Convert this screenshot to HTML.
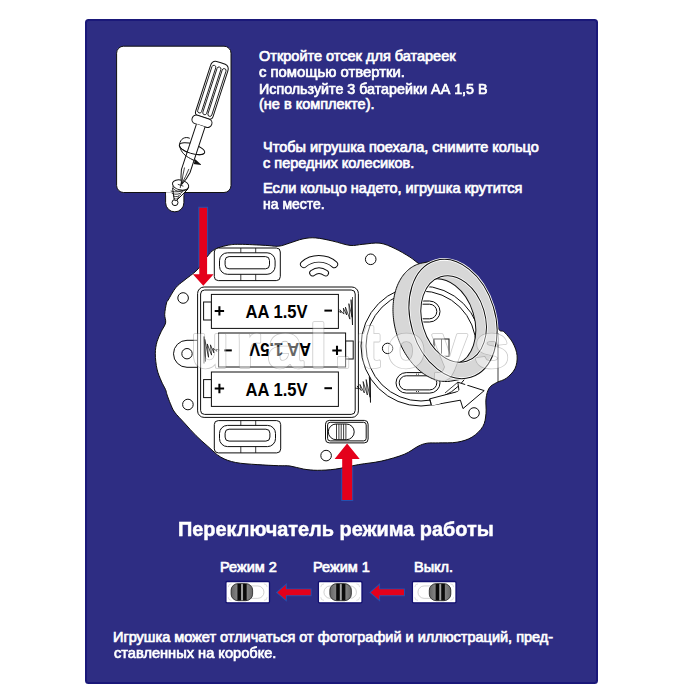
<!DOCTYPE html>
<html><head><meta charset="utf-8">
<style>
html,body{margin:0;padding:0;background:#fff;width:700px;height:700px;overflow:hidden;position:relative;}
#panel{position:absolute;left:84.5px;top:19px;width:509px;height:661px;background:#2e2d83;border:2px solid #1a1879;border-radius:3.5px;}
.t{position:absolute;white-space:nowrap;color:#fff;font-family:"Liberation Sans",sans-serif;font-size:14.5px;line-height:16px;transform-origin:0 0;-webkit-text-stroke:0.7px #fff;}
.b{font-weight:bold;-webkit-text-stroke:0.5px #fff;}
svg{position:absolute;left:0;top:0;}
</style></head><body>
<div id="panel"></div>
<svg width="700" height="700" viewBox="0 0 700 700">
<path d="M165.6 190 L165.6 202.7 A9.15 9.15 0 0 0 183.9 202.7 L183.9 190" fill="#fff" stroke="#111" stroke-width="1"/><rect x="116.6" y="46.2" width="114.4" height="146.3" rx="7" fill="#fff" stroke="#111" stroke-width="1"/><rect x="166.1" y="191.5" width="17.3" height="4" fill="#fff"/><line x1="166" y1="192.5" x2="183.5" y2="192.5" stroke="#aaa" stroke-width="0.6"/><circle cx="175" cy="202.6" r="3" fill="#fff" stroke="#111" stroke-width="1"/><path d="M189.8 138.3 C185 136.2 180.2 138.6 179.5 144.8" fill="none" stroke="#111" stroke-width="1"/><ellipse cx="192" cy="148.8" rx="13.2" ry="4.8" transform="rotate(17 192 148.8)" fill="none" stroke="#111" stroke-width="1"/><path d="M172.6 188 L174.2 199.8 Q175 201 176.5 200.5 L188 189" fill="#fff" stroke="#111" stroke-width="1"/><path d="M170.7 191 Q179 193.4 185 189" fill="none" stroke="#111" stroke-width="0.8"/><path d="M171.82 193.4 Q178.4 195.8 183 191.4" fill="none" stroke="#111" stroke-width="0.8"/><path d="M172.94 195.8 Q177.8 198.2 181 193.8" fill="none" stroke="#111" stroke-width="0.8"/><path d="M174.06 198.2 Q177.2 200.6 179 196.2" fill="none" stroke="#111" stroke-width="0.8"/><ellipse cx="180.6" cy="185" rx="8.3" ry="5" transform="rotate(14 180.6 185)" fill="#fff" stroke="#111" stroke-width="1"/><path d="M172.6 186.4 Q173.5 191.5 180.5 191.2 Q187.8 190.8 188.6 187" fill="none" stroke="#111" stroke-width="0.8"/><path d="M177.8 184.3 L183.4 186.2 M181.2 182.4 L180.2 188" stroke="#111" stroke-width="0.8"/><g transform="translate(220.6 63.6) rotate(18)"><path d="M-9 5 Q-9 -0.2 -4.5 -0.8 Q0 -1.3 4.6 -0.8 Q9.2 -0.2 9.2 5 L9.2 53 Q9.2 56.5 5.5 56.5 L-5.3 56.5 Q-9 56.5 -9 53 Z" fill="#fff" stroke="#111" stroke-width="1"/><rect x="-7.3" y="3.6" width="4.0" height="50" rx="2" fill="none" stroke="#111" stroke-width="0.85"/><rect x="-1.9" y="3.6" width="4.0" height="50" rx="2" fill="none" stroke="#111" stroke-width="0.85"/><rect x="3.5" y="3.6" width="4.0" height="50" rx="2" fill="none" stroke="#111" stroke-width="0.85"/><rect x="-10.2" y="56.2" width="20.6" height="8.8" rx="4.4" fill="#fff" stroke="#111" stroke-width="1"/><path d="M-4.3 65 L-4.5 113 Q-3 121 0.3 127 Q3.4 121 4.6 113 L4.8 65" fill="#fff" stroke="#111" stroke-width="1"/><path d="M-2.2 110 Q-1.6 119 0.3 126 M2.4 110 Q1.8 118 0.3 126" fill="none" stroke="#111" stroke-width="0.7"/></g><path d="M204.62 152.66 A13.2 4.8 17 0 1 179.38 144.94" fill="none" stroke="#111" stroke-width="1"/><path d="M179.8 146.5 C181.2 152.5 185 155.8 190.5 158.6 L197.5 162.3" fill="none" stroke="#111" stroke-width="1"/><path d="M195.2 159.3 L201.6 165.1 L193.8 163.9 Z" fill="#111"/>
<path d="M199.3 207.8 H207.1 V274.3 H213.6 L203.3 285.7 L192.9 274.3 H199.3 Z" fill="none" stroke="#2350b0" stroke-width="2"/>
<path d="M342.2 500 V458.9 H334.6 L347.1 443.5 L359.7 458.9 H352.2 V500 Z" fill="none" stroke="#2350b0" stroke-width="2"/>
<path d="M168.2 300 C169.73 297.47 173.07 291.05 175.7 287.8 C178.33 284.55 180.43 283.47 184 280.5 C187.57 277.53 193.3 273.9 197.1 270 C200.9 266.1 203.93 260.5 206.8 257.1 C209.67 253.7 210.92 251.55 214.3 249.6 C217.68 247.65 222.82 246.28 227.1 245.4 C231.38 244.52 233.57 244.3 240 244.3 C246.43 244.3 259.27 245.08 265.7 245.4 C272.13 245.72 274.67 246.57 278.6 246.2 C282.53 245.83 285.25 244.42 289.3 243.2 C293.35 241.98 298.5 239.78 302.9 238.9 C307.3 238.02 310.7 237.53 315.7 237.9 C320.7 238.27 327.18 239.85 332.9 241.1 C338.62 242.35 345 244.87 350 245.4 C355 245.93 357.9 244.67 362.9 244.3 C367.9 243.93 374.65 242.48 380 243.2 C385.35 243.92 390 246.28 395 248.6 C400 250.92 405.5 254.37 410 257.1 C414.5 259.83 416.17 262.85 422 265 C427.83 267.15 436.67 267.17 445 270 C453.33 272.83 464.5 276.67 472 282 C479.5 287.33 485.67 294.33 490 302 C494.33 309.67 495.62 322.98 498 328 C500.38 333.02 501.82 329.62 504.3 332.1 C506.78 334.58 510.77 338.97 512.9 342.9 C515.03 346.83 516.75 351.42 517.1 355.7 C517.45 359.98 516.78 364.85 515 368.6 C513.22 372.35 509.43 375.88 506.4 378.2 C503.37 380.52 499.65 380.88 496.8 382.5 C493.95 384.12 491.1 385.22 489.3 387.9 C487.5 390.58 486.55 394.32 486 398.6 C485.45 402.88 486.52 408.97 486 413.6 C485.48 418.23 485.22 422.48 482.9 426.4 C480.58 430.32 476.4 434.47 472.1 437.1 C467.8 439.73 462.68 441.23 457.1 442.2 C451.52 443.17 443.6 442.73 438.6 442.9 C433.6 443.07 430.53 442.63 427.1 443.2 C423.67 443.77 421.8 444.45 418 446.3 C414.2 448.15 410.4 451.83 404.3 454.3 C398.2 456.77 389.02 459.38 381.4 461.1 C373.78 462.82 366.22 463.27 358.6 464.6 C350.98 465.93 342.57 468.15 335.7 469.1 C328.83 470.05 322.73 470.3 317.4 470.3 C312.07 470.3 308.27 469.82 303.7 469.1 C299.13 468.38 294.18 466.57 290 466 C285.82 465.43 284.08 465.93 278.6 465.7 C273.12 465.47 264.25 465.13 257.1 464.6 C249.95 464.07 241.77 463.75 235.7 462.5 C229.63 461.25 225.33 459.78 220.7 457.1 C216.07 454.42 212 449.97 207.9 446.4 C203.8 442.83 200.03 439.62 196.1 435.7 C192.17 431.78 187.88 426.83 184.3 422.9 C180.72 418.97 176.92 415.32 174.6 412.1 C172.28 408.88 171.65 406.45 170.4 403.6 C169.15 400.75 167.9 397.32 167.1 395 C166.3 392.68 166.57 392.02 165.6 389.7 C164.63 387.38 162.73 384.53 161.3 381.1 C159.87 377.67 158 373.67 157 369.1 C156 364.53 155.3 358.27 155.3 353.7 C155.3 349.13 156 345.42 157 341.7 C158 337.98 159.87 334.53 161.3 331.4 C162.73 328.27 165.03 325.75 165.6 322.9 C166.17 320.05 164.55 317.62 164.7 314.3 C164.85 310.98 165.92 305.38 166.5 303 C167.08 300.62 166.67 302.53 168.2 300Z" fill="#fff" stroke="#0d0d0d" stroke-width="1"/><line x1="498" y1="333" x2="498" y2="382" stroke="#0d0d0d" stroke-width="0.8"/><rect x="214.3" y="248" width="66" height="32.6" rx="4" fill="#fff" stroke="#0d0d0d" stroke-width="1"/><rect x="219.5" y="252.8" width="55.6" height="21.5" rx="8" fill="none" stroke="#0d0d0d" stroke-width="1"/><rect x="225.1" y="256.6" width="44.4" height="12.2" rx="4" fill="none" stroke="#0d0d0d" stroke-width="1"/><line x1="240.8" y1="248" x2="240.8" y2="252.8" stroke="#0d0d0d" stroke-width="0.8"/><line x1="240.8" y1="274.3" x2="240.8" y2="280.6" stroke="#0d0d0d" stroke-width="0.8"/><line x1="255.7" y1="248" x2="255.7" y2="252.8" stroke="#0d0d0d" stroke-width="0.8"/><line x1="255.7" y1="274.3" x2="255.7" y2="280.6" stroke="#0d0d0d" stroke-width="0.8"/><rect x="214.3" y="420.6" width="66.4" height="32.3" rx="4" fill="#fff" stroke="#0d0d0d" stroke-width="1"/><rect x="219.5" y="425.4" width="56" height="21.2" rx="8" fill="none" stroke="#0d0d0d" stroke-width="1"/><rect x="225.1" y="429.2" width="44.8" height="11.9" rx="4" fill="none" stroke="#0d0d0d" stroke-width="1"/><line x1="240.8" y1="420.6" x2="240.8" y2="425.4" stroke="#0d0d0d" stroke-width="0.8"/><line x1="240.8" y1="446.6" x2="240.8" y2="452.9" stroke="#0d0d0d" stroke-width="0.8"/><line x1="255.7" y1="420.6" x2="255.7" y2="425.4" stroke="#0d0d0d" stroke-width="0.8"/><line x1="255.7" y1="446.6" x2="255.7" y2="452.9" stroke="#0d0d0d" stroke-width="0.8"/><path d="M303.8 264.3 C309 259.6 314 258.8 318.8 258.8 C323.5 258.8 329 259.6 334.3 264.3" fill="none" stroke="#0d0d0d" stroke-width="7.6" stroke-linecap="round"/><path d="M303.8 264.3 C309 259.6 314 258.8 318.8 258.8 C323.5 258.8 329 259.6 334.3 264.3" fill="none" stroke="#fff" stroke-width="5.7" stroke-linecap="round"/><path d="M312.6 273 C315 271.2 317 270.6 319 270.6 C321 270.6 323 271.2 325.6 273" fill="none" stroke="#0d0d0d" stroke-width="6.8" stroke-linecap="round"/><path d="M312.6 273 C315 271.2 317 270.6 319 270.6 C321 270.6 323 271.2 325.6 273" fill="none" stroke="#fff" stroke-width="4.9" stroke-linecap="round"/><circle cx="183.1" cy="298" r="5.3" fill="#fff" stroke="#0d0d0d" stroke-width="1"/><circle cx="370.7" cy="259.3" r="5.3" fill="#fff" stroke="#0d0d0d" stroke-width="1"/><circle cx="187.9" cy="404.5" r="5.3" fill="#fff" stroke="#0d0d0d" stroke-width="1"/><circle cx="326.1" cy="455.6" r="5.3" fill="#fff" stroke="#0d0d0d" stroke-width="1"/><circle cx="474" cy="413" r="5.3" fill="#fff" stroke="#0d0d0d" stroke-width="1"/><path d="M199 340.3 L187 340.3 A13.5 13.5 0 0 0 187 367.3 L199 367.3" fill="#fff" stroke="#0d0d0d" stroke-width="1"/><circle cx="187" cy="353.7" r="5.2" fill="#fff" stroke="#0d0d0d" stroke-width="1"/>
<path d="M199.3 207.8 H207.1 V274.3 H213.6 L203.3 285.7 L192.9 274.3 H199.3 Z" fill="#e4001b"/>
<rect x="197.6" y="287" width="160.8" height="130.4" rx="6.5" fill="#fff" stroke="#0d0d0d" stroke-width="1"/><rect x="200.6" y="290" width="154.6" height="124.4" rx="4" fill="none" stroke="#0d0d0d" stroke-width="1"/><rect x="203.6" y="302" width="7.8" height="18" fill="#fff" stroke="#0d0d0d" stroke-width="1"/><rect x="211.4" y="294.4" width="127" height="34" fill="#fff" stroke="#0d0d0d" stroke-width="1"/><path d="M214.7 310.9 h9.4 M219.4 306.2 v9.4" stroke="#000" stroke-width="2.05"/><path d="M324.4 310.6 h7.6" stroke="#000" stroke-width="2"/><text x="245.6" y="318.2" font-family="Liberation Sans" font-weight="bold" font-size="18.6" fill="#000" textLength="62" lengthAdjust="spacingAndGlyphs">AA 1.5V</text><rect x="345.6" y="341" width="7.6" height="18" fill="#fff" stroke="#0d0d0d" stroke-width="1"/><rect x="218.6" y="333" width="127" height="34" fill="#fff" stroke="#0d0d0d" stroke-width="1"/><path d="M224.2 350.4 h7.6" stroke="#000" stroke-width="2"/><path d="M332.3 350.4 h9.4 M337 345.7 v9.4" stroke="#000" stroke-width="2.05"/><text x="249.1" y="356.8" font-family="Liberation Sans" font-weight="bold" font-size="18.6" fill="#000" textLength="62" lengthAdjust="spacingAndGlyphs" transform="rotate(180 280.1 350)">AA 1.5V</text><rect x="203.6" y="379.6" width="7.8" height="18" fill="#fff" stroke="#0d0d0d" stroke-width="1"/><rect x="211.4" y="372" width="127" height="34.4" fill="#fff" stroke="#0d0d0d" stroke-width="1"/><path d="M214.7 388.5 h9.4 M219.4 383.8 v9.4" stroke="#000" stroke-width="2.05"/><path d="M324.4 388.2 h7.6" stroke="#000" stroke-width="2"/><text x="245.6" y="395.8" font-family="Liberation Sans" font-weight="bold" font-size="18.6" fill="#000" textLength="62" lengthAdjust="spacingAndGlyphs">AA 1.5V</text><path d="M338 311 L341.23 312.71 L339.87 309.73 L343.87 314.09 L343.42 308.13 L346.61 314.94 L345.41 307.1 L349.87 319.13 L348.85 303.64 L352.16 317.28 L351.06 299.62 L352.5 325 L352.5 297" fill="none" stroke="#000" stroke-width="0.7" stroke-linejoin="round"/><path d="M204 363.5 L204 336.5 L205.41 361.5 L204.73 339.25 L208.56 357.3 L207.27 343.93 L211.58 355.13 L210.43 344.81 L213.88 352.91 L213.11 348.32 L216.97 351.43 L215.87 349.29 L219.5 350" fill="none" stroke="#000" stroke-width="0.7" stroke-linejoin="round"/><path d="M355 388 L358.49 388.78 L357.22 385.94 L361.3 390.64 L359.88 384.38 L364.32 392.94 L363.14 381.51 L367.38 395.02 L366.16 379.55 L370.13 397.32 L369.36 376.56 L370.5 402.5 L370.5 373.5" fill="none" stroke="#000" stroke-width="0.7" stroke-linejoin="round"/>
<circle cx="421" cy="346" r="60" fill="#fff" stroke="#0d0d0d" stroke-width="1"/><circle cx="421" cy="346" r="55" fill="none" stroke="#0d0d0d" stroke-width="1"/><rect x="396" y="372.6" width="44" height="20.5" rx="10.25" fill="#fff" stroke="#0d0d0d" stroke-width="1"/><rect x="399.2" y="375.8" width="37.6" height="14.1" rx="7.05" fill="none" stroke="#0d0d0d" stroke-width="1"/><path d="M416 374.2 h4 M416 391.5 h4" stroke="#0d0d0d" stroke-width="0.8" stroke-dasharray="1 1"/><rect x="396" y="301" width="44" height="21" rx="10.5" fill="#fff" stroke="#0d0d0d" stroke-width="1"/><rect x="399.2" y="304.2" width="37.6" height="14.6" rx="7.3" fill="none" stroke="#0d0d0d" stroke-width="1"/><path d="M416 302.6 h4 M416 320.4 h4" stroke="#0d0d0d" stroke-width="0.8" stroke-dasharray="1 1"/><rect x="434" y="339" width="15" height="17.3" fill="#fff" stroke="#0d0d0d" stroke-width="1"/><line x1="441.5" y1="339" x2="441.5" y2="356.3" stroke="#0d0d0d" stroke-width="0.8"/><circle cx="387.6" cy="348.4" r="5.2" fill="#fff" stroke="#0d0d0d" stroke-width="1"/><path d="M429.6 398.9 L459.1 391.2 L457.8 382.2 L484.2 390.6 L463 408.6 L460.4 400.2 L431.5 405.3 Z" fill="#fff" stroke="#0d0d0d" stroke-width="1"/><path d="M431.2 404.6 A60 60 0 0 0 476 370" fill="none" stroke="#fff" stroke-width="2.2"/><path d="M429.6 398.9 L431.5 405.3" stroke="#0d0d0d" stroke-width="1"/><path d="M445 393 L457.8 382.2" stroke="#0d0d0d" stroke-width="0.8"/><defs><clipPath id="hole"><ellipse cx="453.6" cy="319" rx="31.5" ry="44.1" transform="rotate(-17 453.6 319)" /></clipPath><mask id="rm" maskUnits="userSpaceOnUse" x="0" y="0" width="700" height="700"><path d="M392.98 309.56 L393.01 307.53 L393.09 305.53 L393.23 303.54 L393.42 301.58 L393.67 299.64 L393.96 297.73 L394.31 295.84 L394.71 293.99 L395.17 292.18 L395.67 290.4 L396.22 288.66 L396.83 286.96 L397.48 285.3 L398.18 283.69 L398.93 282.12 L399.73 280.6 L400.57 279.13 L401.45 277.72 L402.38 276.36 L403.35 275.05 L404.36 273.8 L405.41 272.61 L406.5 271.48 L407.62 270.42 L408.79 269.41 L409.98 268.47 L411.21 267.59 L412.47 266.78 L413.76 266.04 L415.08 265.37 L416.43 264.76 L417.8 264.23 L419.19 263.76 L420.61 263.37 L422.05 263.04 L438.05 260.04 L439.5 259.79 L440.97 259.61 L442.46 259.51 L443.95 259.47 L445.46 259.51 L446.98 259.62 L448.51 259.81 L450.04 260.06 L451.57 260.39 L453.11 260.79 L454.65 261.26 L456.18 261.8 L457.71 262.41 L459.23 263.09 L460.75 263.83 L462.26 264.65 L463.76 265.53 L465.24 266.47 L466.71 267.48 L468.16 268.56 L469.59 269.69 L471.01 270.88 L472.4 272.14 L473.76 273.45 L475.11 274.81 L476.42 276.23 L477.71 277.7 L478.96 279.22 L480.19 280.79 L481.38 282.41 L482.54 284.07 L483.66 285.77 L484.74 287.51 L485.79 289.3 L486.79 291.12 L487.76 292.97 L488.68 294.85 L489.56 296.77 L490.39 298.71 L491.18 300.67 L491.92 302.66 L492.61 304.67 L493.26 306.69 L493.86 308.73 L494.4 310.78 L494.9 312.85 L495.35 314.92 L495.74 316.99 L496.08 319.07 L496.37 321.15 L496.61 323.22 L496.79 325.29 L496.92 327.35 L497 329.4 L497.02 331.44 L496.99 333.47 L496.91 335.47 L496.77 337.46 L496.58 339.42 L496.33 341.36 L496.04 343.27 L495.69 345.16 L495.29 347.01 L494.83 348.82 L494.33 350.6 L493.78 352.34 L493.17 354.04 L492.52 355.7 L491.82 357.31 L491.07 358.88 L490.27 360.4 L489.43 361.87 L488.55 363.28 L487.62 364.64 L486.65 365.95 L485.64 367.2 L484.59 368.39 L483.5 369.52 L482.38 370.58 L481.21 371.59 L480.02 372.53 L478.79 373.41 L477.53 374.22 L476.24 374.96 L474.92 375.63 L473.57 376.24 L472.2 376.77 L470.81 377.24 L469.39 377.63 L467.95 377.96 L451.95 380.96 L450.5 381.21 L449.03 381.39 L447.54 381.49 L446.05 381.53 L444.54 381.49 L443.02 381.38 L441.49 381.19 L439.96 380.94 L438.43 380.61 L436.89 380.21 L435.35 379.74 L433.82 379.2 L432.29 378.59 L430.77 377.91 L429.25 377.17 L427.74 376.35 L426.24 375.47 L424.76 374.53 L423.29 373.52 L421.84 372.44 L420.41 371.31 L418.99 370.12 L417.6 368.86 L416.24 367.55 L414.89 366.19 L413.58 364.77 L412.29 363.3 L411.04 361.78 L409.81 360.21 L408.62 358.59 L407.46 356.93 L406.34 355.23 L405.26 353.49 L404.21 351.7 L403.21 349.88 L402.24 348.03 L401.32 346.15 L400.44 344.23 L399.61 342.29 L398.82 340.33 L398.08 338.34 L397.39 336.33 L396.74 334.31 L396.14 332.27 L395.6 330.22 L395.1 328.15 L394.65 326.08 L394.26 324.01 L393.92 321.93 L393.63 319.85 L393.39 317.78 L393.21 315.71 L393.08 313.65 L393 311.6Z" fill="#fff"/><g clip-path="url(#hole)"><ellipse cx="443" cy="322" rx="31.5" ry="44.1" transform="rotate(-17 443 322)" fill="#000"/></g></mask></defs><rect x="350" y="230" width="200" height="170" fill="#d7d7d7" mask="url(#rm)"/><path d="M392.98 309.56 L393.01 307.53 L393.09 305.53 L393.23 303.54 L393.42 301.58 L393.67 299.64 L393.96 297.73 L394.31 295.84 L394.71 293.99 L395.17 292.18 L395.67 290.4 L396.22 288.66 L396.83 286.96 L397.48 285.3 L398.18 283.69 L398.93 282.12 L399.73 280.6 L400.57 279.13 L401.45 277.72 L402.38 276.36 L403.35 275.05 L404.36 273.8 L405.41 272.61 L406.5 271.48 L407.62 270.42 L408.79 269.41 L409.98 268.47 L411.21 267.59 L412.47 266.78 L413.76 266.04 L415.08 265.37 L416.43 264.76 L417.8 264.23 L419.19 263.76 L420.61 263.37 L422.05 263.04 L438.05 260.04 L439.5 259.79 L440.97 259.61 L442.46 259.51 L443.95 259.47 L445.46 259.51 L446.98 259.62 L448.51 259.81 L450.04 260.06 L451.57 260.39 L453.11 260.79 L454.65 261.26 L456.18 261.8 L457.71 262.41 L459.23 263.09 L460.75 263.83 L462.26 264.65 L463.76 265.53 L465.24 266.47 L466.71 267.48 L468.16 268.56 L469.59 269.69 L471.01 270.88 L472.4 272.14 L473.76 273.45 L475.11 274.81 L476.42 276.23 L477.71 277.7 L478.96 279.22 L480.19 280.79 L481.38 282.41 L482.54 284.07 L483.66 285.77 L484.74 287.51 L485.79 289.3 L486.79 291.12 L487.76 292.97 L488.68 294.85 L489.56 296.77 L490.39 298.71 L491.18 300.67 L491.92 302.66 L492.61 304.67 L493.26 306.69 L493.86 308.73 L494.4 310.78 L494.9 312.85 L495.35 314.92 L495.74 316.99 L496.08 319.07 L496.37 321.15 L496.61 323.22 L496.79 325.29 L496.92 327.35 L497 329.4 L497.02 331.44 L496.99 333.47 L496.91 335.47 L496.77 337.46 L496.58 339.42 L496.33 341.36 L496.04 343.27 L495.69 345.16 L495.29 347.01 L494.83 348.82 L494.33 350.6 L493.78 352.34 L493.17 354.04 L492.52 355.7 L491.82 357.31 L491.07 358.88 L490.27 360.4 L489.43 361.87 L488.55 363.28 L487.62 364.64 L486.65 365.95 L485.64 367.2 L484.59 368.39 L483.5 369.52 L482.38 370.58 L481.21 371.59 L480.02 372.53 L478.79 373.41 L477.53 374.22 L476.24 374.96 L474.92 375.63 L473.57 376.24 L472.2 376.77 L470.81 377.24 L469.39 377.63 L467.95 377.96 L451.95 380.96 L450.5 381.21 L449.03 381.39 L447.54 381.49 L446.05 381.53 L444.54 381.49 L443.02 381.38 L441.49 381.19 L439.96 380.94 L438.43 380.61 L436.89 380.21 L435.35 379.74 L433.82 379.2 L432.29 378.59 L430.77 377.91 L429.25 377.17 L427.74 376.35 L426.24 375.47 L424.76 374.53 L423.29 373.52 L421.84 372.44 L420.41 371.31 L418.99 370.12 L417.6 368.86 L416.24 367.55 L414.89 366.19 L413.58 364.77 L412.29 363.3 L411.04 361.78 L409.81 360.21 L408.62 358.59 L407.46 356.93 L406.34 355.23 L405.26 353.49 L404.21 351.7 L403.21 349.88 L402.24 348.03 L401.32 346.15 L400.44 344.23 L399.61 342.29 L398.82 340.33 L398.08 338.34 L397.39 336.33 L396.74 334.31 L396.14 332.27 L395.6 330.22 L395.1 328.15 L394.65 326.08 L394.26 324.01 L393.92 321.93 L393.63 319.85 L393.39 317.78 L393.21 315.71 L393.08 313.65 L393 311.6Z" fill="none" stroke="#0d0d0d" stroke-width="1"/><ellipse cx="453" cy="319" rx="42.1" ry="60.9" transform="rotate(-17 453 319)" fill="none" stroke="#fff" stroke-width="2.6"/><ellipse cx="453.6" cy="319" rx="31.5" ry="44.1" transform="rotate(-17 453.6 319)" fill="none" stroke="#fff" stroke-width="2.6"/><ellipse cx="453" cy="319" rx="42.1" ry="60.9" transform="rotate(-17 453 319)" fill="none" stroke="#0d0d0d" stroke-width="1"/><ellipse cx="453.6" cy="319" rx="31.5" ry="44.1" transform="rotate(-17 453.6 319)" fill="none" stroke="#0d0d0d" stroke-width="1"/><g clip-path="url(#hole)"><ellipse cx="443" cy="322" rx="31.5" ry="44.1" transform="rotate(-17 443 322)" fill="none" stroke="#0d0d0d" stroke-width="1"/></g>
<g opacity="0.4"><text x="191" y="366.5" font-family="Liberation Sans" font-weight="bold" font-size="62" textLength="318" lengthAdjust="spacing" fill="none" stroke="#7a7a7a" stroke-width="3.4" stroke-linejoin="round">ural.toys</text><text x="191" y="366.5" font-family="Liberation Sans" font-weight="bold" font-size="62" textLength="318" lengthAdjust="spacing" fill="#fff" stroke="#fff" stroke-width="1.8" stroke-linejoin="round">ural.toys</text></g>
<defs><linearGradient id="kg" x1="0" x2="1" y1="0" y2="0"><stop offset="0" stop-color="#666"/><stop offset="0.35" stop-color="#8a8a8a"/><stop offset="0.5" stop-color="#a8a8a8"/><stop offset="0.65" stop-color="#8a8a8a"/><stop offset="1" stop-color="#666"/></linearGradient></defs><rect x="225.9" y="581.5" width="43.6" height="21.3" rx="1.2" fill="#fff" stroke="#121070" stroke-width="1.3"/><path d="M228.3 587.1 A3.2 3.2 0 0 1 231.5 583.9 M263.9 583.9 A3.2 3.2 0 0 1 267.1 587.1 M267.1 597.2 A3.2 3.2 0 0 1 263.9 600.4 M231.5 600.4 A3.2 3.2 0 0 1 228.3 597.2" fill="none" stroke="#c9c9c9" stroke-width="0.6"/><rect x="231.45" y="585.95" width="32.5" height="12.4" rx="6.2" fill="none" stroke="#bdbdbd" stroke-width="0.7"/><rect x="231.1" y="583.6" width="21.5" height="17.1" rx="7" ry="6.5" fill="url(#kg)" stroke="#222" stroke-width="0.8"/><rect x="237.45" y="583.9" width="3.6" height="16.5" fill="#0a0a0a"/><rect x="243.05" y="583.9" width="3.6" height="16.5" fill="#0a0a0a"/><rect x="318.4" y="581.5" width="43.6" height="21.3" rx="1.2" fill="#fff" stroke="#121070" stroke-width="1.3"/><path d="M320.8 587.1 A3.2 3.2 0 0 1 324 583.9 M356.4 583.9 A3.2 3.2 0 0 1 359.6 587.1 M359.6 597.2 A3.2 3.2 0 0 1 356.4 600.4 M324 600.4 A3.2 3.2 0 0 1 320.8 597.2" fill="none" stroke="#c9c9c9" stroke-width="0.6"/><rect x="323.95" y="585.95" width="32.5" height="12.4" rx="6.2" fill="none" stroke="#bdbdbd" stroke-width="0.7"/><rect x="329.85" y="583.6" width="21.5" height="17.1" rx="7" ry="6.5" fill="url(#kg)" stroke="#222" stroke-width="0.8"/><rect x="336.2" y="583.9" width="3.6" height="16.5" fill="#0a0a0a"/><rect x="341.8" y="583.9" width="3.6" height="16.5" fill="#0a0a0a"/><rect x="412.4" y="581.5" width="43.6" height="21.3" rx="1.2" fill="#fff" stroke="#121070" stroke-width="1.3"/><path d="M414.8 587.1 A3.2 3.2 0 0 1 418 583.9 M450.4 583.9 A3.2 3.2 0 0 1 453.6 587.1 M453.6 597.2 A3.2 3.2 0 0 1 450.4 600.4 M418 600.4 A3.2 3.2 0 0 1 414.8 597.2" fill="none" stroke="#c9c9c9" stroke-width="0.6"/><rect x="417.95" y="585.95" width="32.5" height="12.4" rx="6.2" fill="none" stroke="#bdbdbd" stroke-width="0.7"/><rect x="429.3" y="583.6" width="21.5" height="17.1" rx="7" ry="6.5" fill="url(#kg)" stroke="#222" stroke-width="0.8"/><rect x="435.65" y="583.9" width="3.6" height="16.5" fill="#0a0a0a"/><rect x="441.25" y="583.9" width="3.6" height="16.5" fill="#0a0a0a"/><path d="M277.3 592.5 L285.9 585 L285.9 589.3 L310.7 589.3 L310.7 595.3 L285.9 595.3 L285.9 599.8Z" fill="#e4001b" stroke="#2350b0" stroke-width="1.8" paint-order="stroke" stroke-linejoin="miter"/><path d="M370.6 592.5 L379.2 585 L379.2 589.3 L404 589.3 L404 595.3 L379.2 595.3 L379.2 599.8Z" fill="#e4001b" stroke="#2350b0" stroke-width="1.8" paint-order="stroke" stroke-linejoin="miter"/><rect x="325.5" y="420.4" width="42.6" height="22.5" rx="3.8" fill="#fff" stroke="#0d0d0d" stroke-width="1"/><rect x="327.6" y="422.3" width="38.6" height="18.6" rx="2.6" fill="none" stroke="#0d0d0d" stroke-width="1"/><rect x="328.3" y="424" width="25.9" height="15.7" rx="7.85" fill="#fff" stroke="#0d0d0d" stroke-width="1"/><line x1="336.5" y1="424" x2="336.5" y2="439.7" stroke="#0d0d0d" stroke-width="0.8"/><line x1="338.9" y1="424" x2="338.9" y2="439.7" stroke="#0d0d0d" stroke-width="0.8"/><line x1="341.2" y1="424" x2="341.2" y2="439.7" stroke="#0d0d0d" stroke-width="0.8"/><line x1="343.6" y1="424" x2="343.6" y2="439.7" stroke="#0d0d0d" stroke-width="0.8"/><line x1="345.9" y1="424" x2="345.9" y2="439.7" stroke="#0d0d0d" stroke-width="0.8"/><path d="M342.2 500 V458.9 H334.6 L347.1 443.5 L359.7 458.9 H352.2 V500 Z" fill="#e4001b"/>
</svg>
<div class="t" id="l1" style="left:259px;top:48px">Откройте отсек для батареек</div>
<div class="t" id="l2" style="left:259px;top:64px;transform:scaleX(1.024)">с помощью отвертки.</div>
<div class="t" id="l3" style="left:259px;top:80.5px;transform:scaleX(0.985)">Используйте 3 батарейки АА 1,5 В</div>
<div class="t" id="l4" style="left:259px;top:96px">(не в комплекте).</div>
<div class="t" id="l5" style="left:263px;top:138.6px">Чтобы игрушка поехала, снимите кольцо</div>
<div class="t" id="l6" style="left:263px;top:154.6px">с передних колесиков.</div>
<div class="t" id="l7" style="left:263px;top:180.3px">Если кольцо надето, игрушка крутится</div>
<div class="t" id="l8" style="left:263px;top:196.3px;transform:scaleX(0.965)">на месте.</div>
<div class="t b" id="l9" style="left:178px;top:518.1px;font-size:20.3px;line-height:22px;transform:scaleX(0.981)">Переключатель режима работы</div>
<div class="t" id="l10" style="left:220px;top:558.5px">Режим 2</div>
<div class="t" id="l11" style="left:313px;top:558.5px">Режим 1</div>
<div class="t" id="l12" style="left:414px;top:558.5px">Выкл.</div>
<div class="t" id="l13" style="left:113px;top:628.6px">Игрушка может отличаться от фотографий и иллюстраций, пред-</div>
<div class="t" id="l14" style="left:113.5px;top:644.7px;transform:scaleX(1.008)">ставленных на коробке.</div>
</body></html>
